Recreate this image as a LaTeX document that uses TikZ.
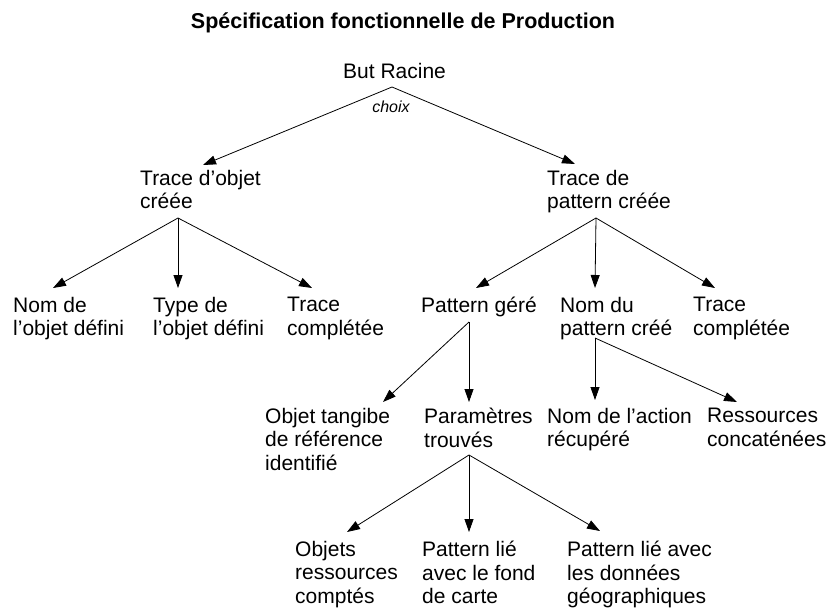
\documentclass[tikz,border=0pt]{standalone}
\usepackage{fontspec}
\setmainfont{Liberation Sans}
\usetikzlibrary{arrows.meta}
\begin{document}
\begin{tikzpicture}[x=1pt,y=-1pt,
  goal/.style={anchor=north west,align=left,inner sep=0pt,font=\fontsize{21}{23.5}\selectfont},
  arr/.style={-{Triangle[length=13pt,width=9pt]},line width=0.8pt}]
       \useasboundingbox (0,0) rectangle (827,610);

       \node[anchor=base,inner sep=0pt,font=\fontsize{21.5}{24}\selectfont\bfseries] (titre) at (403,29) {Spécification fonctionnelle de Production};
       \node[goal] (racine) at (343,63) {But Racine};
       \node[anchor=base,inner sep=0pt,font=\fontsize{16}{18}\selectfont\itshape] (choix) at (391,112) {choix};

       \node[goal] (tobj) at (140,170) {Trace d'objet\\créée};
       \node[goal] (tpat) at (547,170) {Trace de\\pattern créée};

       \node[goal] (nomobj) at (13,297) {Nom de\\l'objet défini};
       \node[goal] (typeobj) at (153,297) {Type de\\l'objet défini};
       \node[goal] (tcompa) at (287,297) {Trace\\complétée};
       \node[goal] (pgere) at (421,297) {Pattern géré};
       \node[goal] (nompat) at (560,297) {Nom du\\pattern créé};
       \node[goal] (tcompb) at (693,297) {Trace\\complétée};

       \node[goal] (otang) at (265,408) {Objet tangibe\\de référence\\identifié};
       \node[goal] (param) at (424,408) {Paramètres\\trouvés};
       \node[goal] (nomact) at (547,408) {Nom de l'action\\récupéré};
       \node[goal] (ressc) at (707,408) {Ressources\\concaténées};

       \node[goal] (objres) at (295,541) {Objets\\ressources\\comptés};
       \node[goal] (pfond) at (422,541) {Pattern lié\\avec le fond\\de carte};
       \node[goal] (pgeo) at (567,541) {Pattern lié avec\\les données\\géographiques};

       \draw[arr] ([shift={(49,24)}]racine.north west) -- ([shift={(63,-5)}]tobj.north west);
       \draw[arr] ([shift={(49,24)}]racine.north west) -- ([shift={(28,-6)}]tpat.north west);

       \draw[arr] ([shift={(38,48)}]tobj.north west) -- ([shift={(40,-9)}]nomobj.north west);
       \draw[arr] ([shift={(38,48)}]tobj.north west) -- ([shift={(25,-9)}]typeobj.north west);
       \draw[arr] ([shift={(38,48)}]tobj.north west) -- ([shift={(25,-9)}]tcompa.north west);

       \draw[arr] ([shift={(49,48)}]tpat.north west) -- ([shift={(55,-9)}]pgere.north west);
       \draw[arr] ([shift={(49,48)}]tpat.north west) -- ([shift={(35,-9)}]nompat.north west);
       \draw[arr] ([shift={(49,48)}]tpat.north west) -- ([shift={(22,-9)}]tcompb.north west);

       \draw[arr] ([shift={(48,25)}]pgere.north west) -- ([shift={(118,-6)}]otang.north west);
       \draw[arr] ([shift={(48,25)}]pgere.north west) -- ([shift={(45,-6)}]param.north west);

       \draw[arr] ([shift={(35,41)}]nompat.north west) -- ([shift={(48,-8)}]nomact.north west);
       \draw[arr] ([shift={(35,41)}]nompat.north west) -- ([shift={(30,-6)}]ressc.north west);

       \draw[arr] ([shift={(45,47)}]param.north west) -- ([shift={(52,-9)}]objres.north west);
       \draw[arr] ([shift={(45,47)}]param.north west) -- ([shift={(47,-9)}]pfond.north west);
       \draw[arr] ([shift={(45,47)}]param.north west) -- ([shift={(33,-10)}]pgeo.north west);
     \end{tikzpicture}
\end{document}
